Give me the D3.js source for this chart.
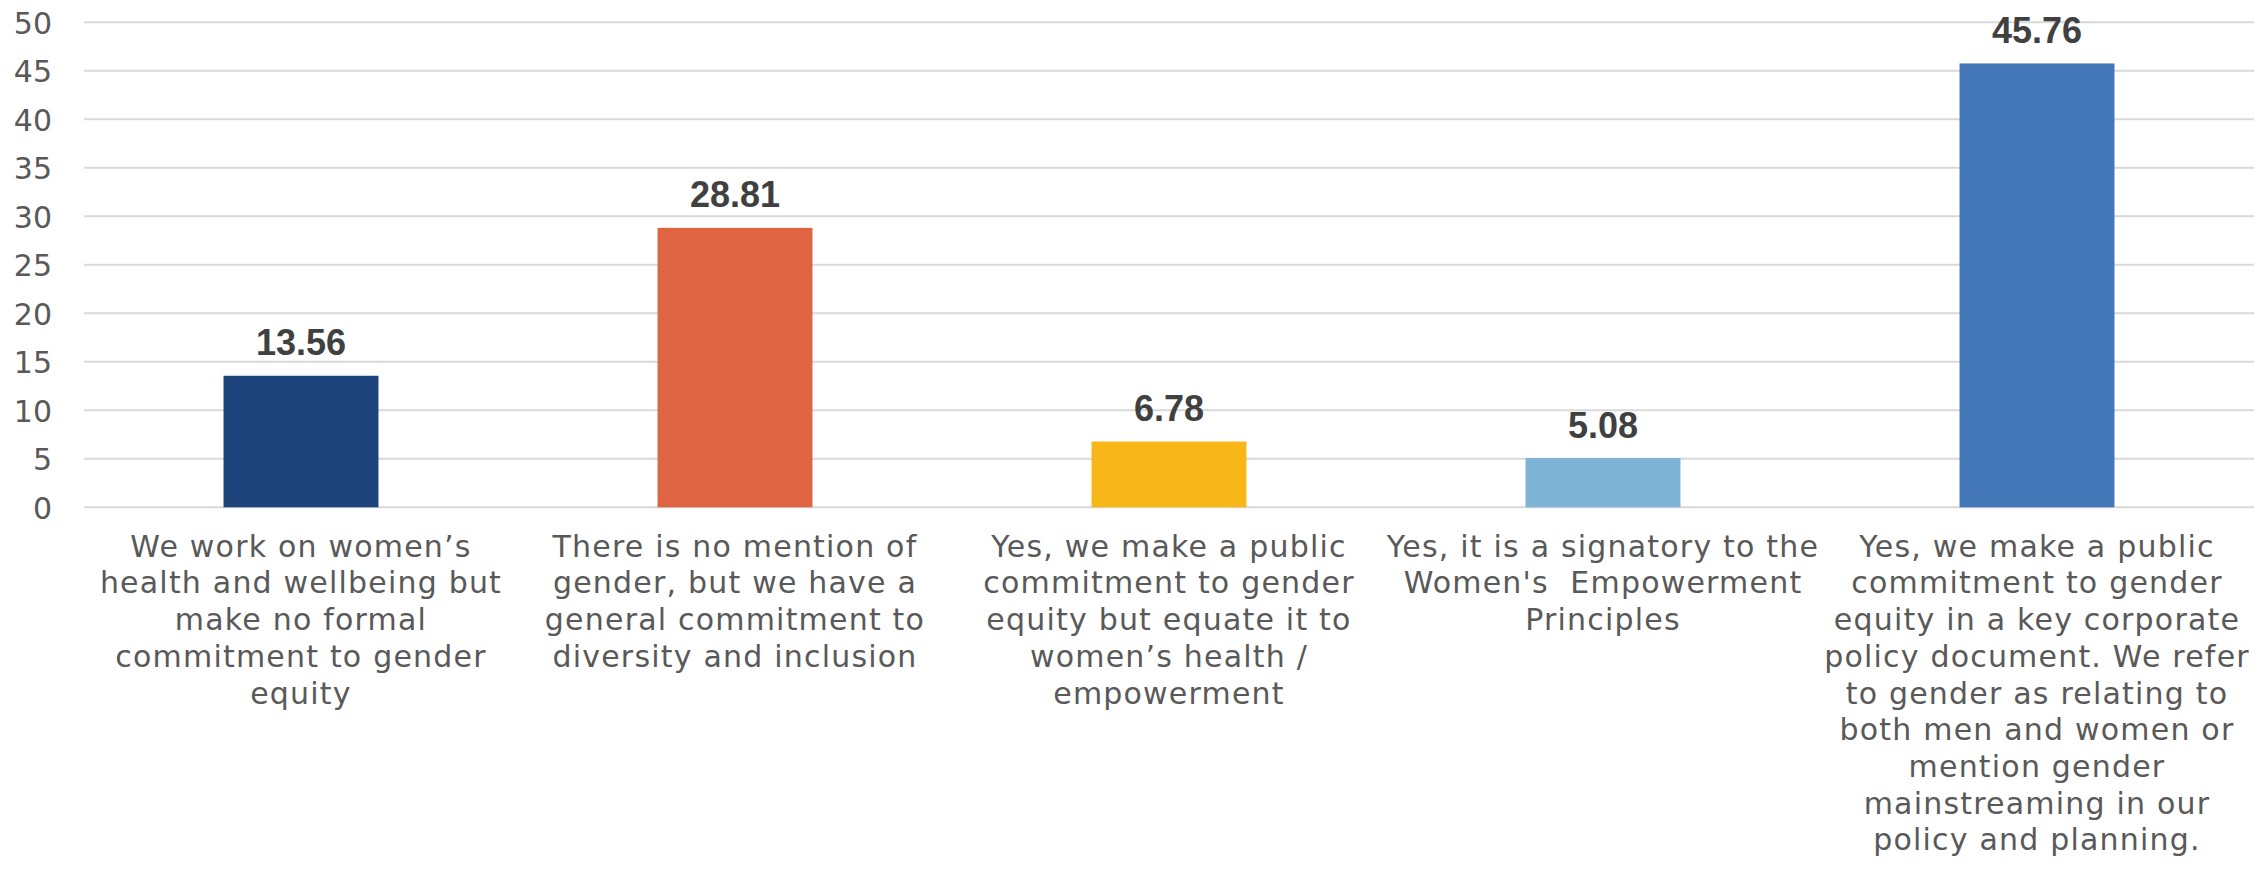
<!DOCTYPE html>
<html>
<head>
<meta charset="utf-8">
<script src="https://cdn.jsdelivr.net/npm/d3@7"></script>
<style>
  html, body { margin: 0; padding: 0; background: #ffffff; }
  svg { display: block; }
  .cat-label { white-space: pre; }
</style>
</head>
<body>
<svg id="chart" width="2267" height="875"></svg>
<script>
// Category labels, already broken into lines
const categoryLines = [
  ["We work on women\u2019s", "health and wellbeing but", "make no formal", "commitment to gender", "equity"],
  ["There is no mention of", "gender, but we have a", "general commitment to", "diversity and inclusion"],
  ["Yes, we make a public", "commitment to gender", "equity but equate it to", "women\u2019s health /", "empowerment"],
  ["Yes, it is a signatory to the", "Women's  Empowerment", "Principles"],
  ["Yes, we make a public", "commitment to gender", "equity in a key corporate", "policy document. We refer", "to gender as relating to", "both men and women or", "mention gender", "mainstreaming in our", "policy and planning."]
];
const values = [13.56, 28.81, 6.78, 5.08, 45.76];
const barColors = ["#1d457c", "#df6441", "#f8b719", "#7fb3d5", "#4477b8"];
const yTicks = [0, 5, 10, 15, 20, 25, 30, 35, 40, 45, 50];

const svg = d3.select("#chart");
const plot = { left: 84, right: 2254, top: 22.3, bottom: 507.3 };

const x = d3.scaleBand()
  .domain(d3.range(values.length))
  .range([plot.left, plot.right])
  .paddingInner(0.643)
  .paddingOuter(0.3215);

const y = d3.scaleLinear()
  .domain([0, 50])
  .range([plot.bottom, plot.top]);

// Horizontal gridlines (including the baseline at 0)
svg.append("g")
  .selectAll("line")
  .data(yTicks)
  .join("line")
  .attr("x1", plot.left)
  .attr("x2", plot.right)
  .attr("y1", d => y(d))
  .attr("y2", d => y(d))
  .attr("stroke", "#d9d9d9")
  .attr("stroke-width", 2);

// Y axis tick labels
const yAxis = d3.axisLeft(y).tickValues(yTicks).tickSize(0).tickPadding(0);
const yg = svg.append("g")
  .attr("transform", `translate(52,0)`)
  .call(yAxis);
yg.select(".domain").remove();
yg.selectAll("text")
  .attr("font-family", "'DejaVu Sans', sans-serif")
  .attr("font-size", 30)
  .attr("fill", "#595959")
  .attr("dy", "0.36em");

// Bars
svg.append("g")
  .selectAll("rect")
  .data(values)
  .join("rect")
  .attr("x", (d, i) => x(i))
  .attr("width", x.bandwidth())
  .attr("y", d => y(d))
  .attr("height", d => y(0) - y(d))
  .attr("fill", (d, i) => barColors[i]);

// Value labels above bars
svg.append("g")
  .selectAll("text")
  .data(values)
  .join("text")
  .attr("x", (d, i) => x(i) + x.bandwidth() / 2)
  .attr("y", d => y(d) - 20.5)
  .attr("text-anchor", "middle")
  .attr("font-family", "'Liberation Sans', Arial, sans-serif")
  .attr("font-weight", "bold")
  .attr("font-size", 36)
  .attr("fill", "#404040")
  .text(d => d.toFixed(2));

// Category labels below the axis
const catG = svg.append("g")
  .selectAll("text")
  .data(categoryLines)
  .join("text")
  .attr("class", "cat-label")
  .attr("text-anchor", "middle")
  .attr("font-family", "'DejaVu Sans', sans-serif")
  .attr("font-size", 30)
  .attr("letter-spacing", "1.2px")
  .attr("fill", "#595959");

catG.selectAll("tspan")
  .data((lines, i) => lines.map(l => ({ l, i })))
  .join("tspan")
  .attr("x", d => x(d.i) + x.bandwidth() / 2)
  .attr("y", (d, j) => plot.bottom + 49.4 + j * 36.7)
  .text(d => d.l);
</script>
</body>
</html>
